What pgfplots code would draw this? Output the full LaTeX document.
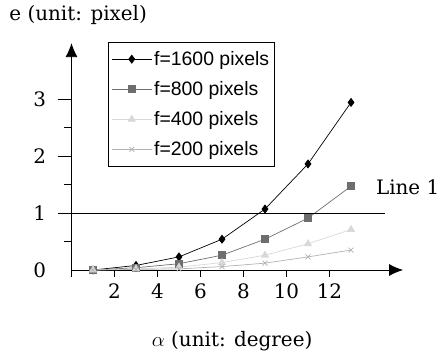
\documentclass[border=0pt]{standalone}
\usepackage{fontspec}
\setmainfont{DejaVu Serif}
\newfontfamily\legendfont{Liberation Sans}
\usepackage{pgfplots}
\pgfplotsset{compat=1.18}
\usetikzlibrary{arrows.meta}
\definecolor{cA}{HTML}{000000}
\definecolor{cB}{HTML}{6E6E6E}
\definecolor{cC}{HTML}{D8D8D8}
\definecolor{cD}{HTML}{B2B2B2}
\begin{document}
\begin{tikzpicture}
\path[use as bounding box] (-71.5bp,-86bp) rectangle (368.5bp,270bp);
\begin{axis}[
  x=21.5bp, y=57bp,
  xmin=0, xmax=15.0, ymin=0, ymax=3.75,
  enlargelimits=false,
  axis lines=left,
  axis line style={-, line width=0.8pt},
  clip=false,
  xtick={2,4,6,8,10,12},
  ytick={0,1,2,3},
  major tick length=0bp,
  xtick style={draw=none},
  ytick style={draw=none},
  tick label style={font=\fontsize{20}{23}\selectfont},
  /pgf/number format/assume math mode=true,
  xticklabel style={yshift=-10bp},
  yticklabel style={xshift=-22bp},
  xlabel={$\alpha$ (unit: degree)},
  label style={font=\fontsize{20}{23}\selectfont},
  xlabel style={at={(axis cs:7.47,-1.25)}, anchor=center},
  legend style={at={(axis cs:1.70,4.0)}, anchor=north west,
    font=\legendfont\fontsize{19.5}{22}\selectfont, draw=black, line width=0.8pt,
    row sep=10.5bp, inner xsep=3bp, inner ysep=7bp, cells={anchor=west}},
  legend image code/.code={%
    \draw[mark repeat=2,mark phase=2] plot coordinates {(0bp,0bp) (20bp,0bp) (40bp,0bp)};},
  every axis plot/.append style={line width=0.7pt},
]
\addplot[color=cA, mark=diamond*, mark size=4bp] coordinates {
(1,0.0) (3,0.08) (5,0.23) (7,0.54) (9,1.07) (11,1.86) (13,2.94)};
\addlegendentry{f=1600 pixels}
\addplot[color=cB, mark=square*, mark size=3.5bp] coordinates {
(1,0.0) (3,0.04) (5,0.11) (7,0.26) (9,0.54) (11,0.91) (13,1.47)};
\addlegendentry{f=800 pixels}
\addplot[color=cC, mark=triangle*, mark size=4bp] coordinates {
(1,0.0) (3,0.02) (5,0.05) (7,0.13) (9,0.26) (11,0.46) (13,0.71)};
\addlegendentry{f=400 pixels}
\addplot[color=cD, mark=x, mark size=3.5bp] coordinates {
(1,0.0) (3,0.01) (5,0.02) (7,0.06) (9,0.12) (11,0.23) (13,0.35)};
\addlegendentry{f=200 pixels}
% Line 1
\addplot[black, line width=0.8pt, forget plot] coordinates {(-0.63,1) (14.6,1)};
% y tick marks
\addplot[black, line width=0.9pt, forget plot] coordinates {(-0.65,2) (0,2)};
\addplot[black, line width=0.9pt, forget plot] coordinates {(-0.65,3) (0,3)};
\addplot[black, line width=0.9pt, forget plot] coordinates {(-0.33,0.5) (0,0.5)};
\addplot[black, line width=0.9pt, forget plot] coordinates {(-0.33,1.5) (0,1.5)};
\addplot[black, line width=0.9pt, forget plot] coordinates {(-0.33,2.5) (0,2.5)};
% x tick marks
\addplot[black, line width=0.9pt, forget plot] coordinates {(0,0) (0,-0.12)};
\addplot[black, line width=0.9pt, forget plot] coordinates {(2,0) (2,-0.12)};
\addplot[black, line width=0.9pt, forget plot] coordinates {(4,0) (4,-0.12)};
\addplot[black, line width=0.9pt, forget plot] coordinates {(6,0) (6,-0.12)};
\addplot[black, line width=0.9pt, forget plot] coordinates {(8,0) (8,-0.12)};
\addplot[black, line width=0.9pt, forget plot] coordinates {(10,0) (10,-0.12)};
\addplot[black, line width=0.9pt, forget plot] coordinates {(12,0) (12,-0.12)};
% arrow heads
\addplot[black, line width=0.8pt, forget plot, -{Latex[length=14bp,width=12bp]}] coordinates {(14.9,0) (15.42,0)};
\addplot[black, line width=0.8pt, forget plot, -{Latex[length=14bp,width=12bp]}] coordinates {(0,3.7) (0,3.98)};
\node[anchor=west, font=\fontsize{20}{23}\selectfont] at (axis cs:14.0,1.46) {Line 1};
\node[anchor=west, font=\fontsize{20}{23}\selectfont] at (axis cs:-3.05,4.47) {e (unit: pixel)};
\end{axis}
\end{tikzpicture}
\end{document}
